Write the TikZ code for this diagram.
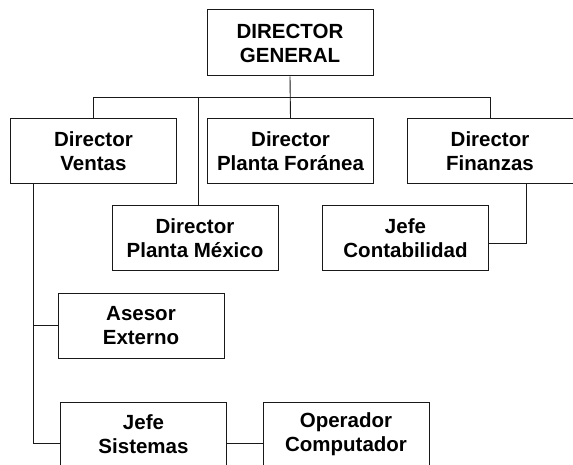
\documentclass[tikz,border=0pt]{standalone}
\usepackage{fontspec}
\setmainfont{Liberation Sans}
\begin{document}
\begin{tikzpicture}[x=1pt,y=-1pt,
  orgbox/.style={draw=black!90, line width=1pt, minimum width=166pt, minimum height=65pt,
    inner sep=0pt, align=center, font=\bfseries\fontsize{20.5}{24}\selectfont},
  link/.style={draw=black!90, line width=0.9pt}]
\useasboundingbox (0,0) rectangle (573,465);
\clip (0,0) rectangle (573,465);
\fill[white] (0,0) rectangle (573,465);
% boxes
\node[orgbox, minimum height=66pt] (dg) at (290,43) {DIRECTOR\\GENERAL};
\node[orgbox] (ventas) at (93.5,151.5) {Director\\Ventas};
\node[orgbox] (foranea) at (290.5,151.5) {Director\\Planta Foránea};
\node[orgbox] (finanzas) at (490,151.5) {Director\\Finanzas};
\node[orgbox] (mexico) at (195,238) {Director\\Planta México};
\node[orgbox] (conta) at (405.5,238) {Jefe\\Contabilidad};
\node[orgbox] (asesor) at (141,325.5) {Asesor\\Externo};
\node[orgbox] (sistemas) at (143.5,434.5) {Jefe\\Sistemas};
\node[orgbox] (operador) at (346,434.5) {Operador\\Computador};
% coordinates
\coordinate (bus) at (290,97);
\coordinate (mx) at (198,97);
\coordinate (fc) at (526,243);
\coordinate (vl) at (33,443);
% connectors
\draw[link] (dg.south) -- (foranea.north);
\draw[link] (ventas.north) -- (ventas.north |- bus) -| (finanzas.north);
\draw[link] (mx) -- (mx |- mexico.north);
\draw[link] (finanzas.south -| fc) -- (fc) -- (fc -| conta.east);
\draw[link] (ventas.south -| vl) -- (vl) -- (vl -| sistemas.west);
\draw[link] (asesor.west -| vl) -- (asesor.west);
\draw[link] (sistemas.east |- vl) -- (operador.west |- vl);
\end{tikzpicture}
\end{document}
